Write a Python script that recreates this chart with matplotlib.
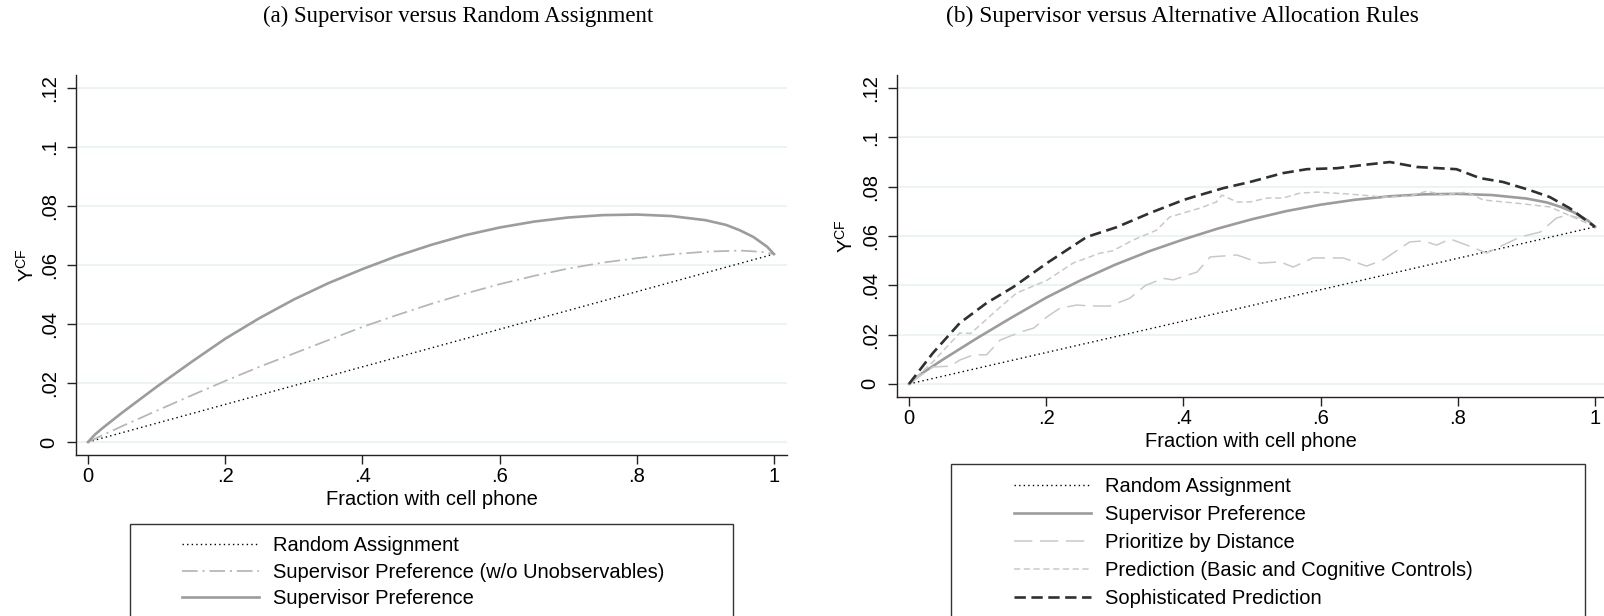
import matplotlib
matplotlib.use("Agg")
import matplotlib.pyplot as plt
from matplotlib.patches import Rectangle

# ---------------- data ----------------
rand_x = [0.0, 1.0]
rand_y = [0.0, 0.0637]

sup_x = [0.0, 0.01, 0.02, 0.05, 0.1, 0.15, 0.2, 0.25, 0.3, 0.35, 0.4, 0.45, 0.5,
         0.55, 0.6, 0.65, 0.7, 0.75, 0.8, 0.85, 0.9, 0.93, 0.95, 0.97, 0.99, 1.0]
sup_y = [0.0, 0.0025, 0.0045, 0.0100, 0.0187, 0.0270, 0.0350, 0.0420, 0.0483,
         0.0538, 0.0586, 0.0630, 0.0668, 0.0701, 0.0727, 0.0747, 0.0761, 0.0769,
         0.0771, 0.0766, 0.0752, 0.0736, 0.0718, 0.0695, 0.0662, 0.0637]

noun_x = [0.0, 0.05, 0.1, 0.15, 0.2, 0.25, 0.3, 0.35, 0.4, 0.45, 0.5, 0.55, 0.6,
          0.65, 0.7, 0.75, 0.8, 0.85, 0.9, 0.95, 0.98, 1.0]
noun_y = [0.0, 0.0054, 0.0106, 0.0157, 0.0207, 0.0255, 0.0300, 0.0345, 0.0390,
          0.0430, 0.0468, 0.0503, 0.0535, 0.0563, 0.0588, 0.0608, 0.0623, 0.0636,
          0.0645, 0.0649, 0.0645, 0.0637]

dist_x = [0.0, 0.02, 0.035, 0.06, 0.074, 0.094, 0.113, 0.133, 0.162, 0.182, 0.201,
          0.22, 0.245, 0.264, 0.293, 0.322, 0.345, 0.371, 0.385, 0.42, 0.439, 0.478,
          0.512, 0.541, 0.56, 0.589, 0.633, 0.667, 0.691, 0.73, 0.75, 0.769, 0.789,
          0.813, 0.842, 0.866, 0.891, 0.92, 0.944, 0.959, 0.979, 1.0]
dist_y = [0.0, 0.0040, 0.0069, 0.0072, 0.0097, 0.0118, 0.0118, 0.0178, 0.0210,
          0.0227, 0.0272, 0.0307, 0.0320, 0.0316, 0.0316, 0.0348, 0.0400, 0.0428,
          0.0422, 0.0454, 0.0515, 0.0523, 0.0490, 0.0495, 0.0474, 0.0511, 0.0511,
          0.0478, 0.0503, 0.0576, 0.0580, 0.0563, 0.0588, 0.0563, 0.0531, 0.0563,
          0.0596, 0.0616, 0.0673, 0.0685, 0.0673, 0.0637]

pred_x = [0.0, 0.035, 0.074, 0.09, 0.133, 0.157, 0.201, 0.239, 0.278, 0.297, 0.327,
          0.361, 0.38, 0.424, 0.448, 0.456, 0.478, 0.497, 0.522, 0.545, 0.57, 0.595,
          0.643, 0.691, 0.73, 0.755, 0.779, 0.813, 0.837, 0.886, 0.934, 0.968, 1.0]
pred_y = [0.0, 0.0090, 0.0207, 0.0205, 0.0312, 0.0369, 0.0420, 0.0490, 0.0530,
          0.0540, 0.0584, 0.0624, 0.0677, 0.0713, 0.0738, 0.0766, 0.0738, 0.0738,
          0.0754, 0.0754, 0.0774, 0.0778, 0.0770, 0.0758, 0.0762, 0.0782, 0.0766,
          0.0778, 0.0746, 0.0733, 0.0718, 0.0677, 0.0637]

soph_x = [0.0, 0.035, 0.074, 0.113, 0.152, 0.201, 0.23, 0.259, 0.303, 0.351, 0.40,
          0.414, 0.458, 0.497, 0.545, 0.58, 0.624, 0.662, 0.701, 0.74, 0.798, 0.832,
          0.866, 0.905, 0.934, 0.963, 1.0]
soph_y = [0.0, 0.0126, 0.0247, 0.0328, 0.0393, 0.0490, 0.0543, 0.0596, 0.0636,
          0.0693, 0.0746, 0.0758, 0.0794, 0.0819, 0.0855, 0.0871, 0.0875, 0.0888,
          0.0900, 0.0880, 0.0871, 0.0835, 0.0819, 0.0786, 0.0758, 0.0713, 0.0637]

xticks = [0, 0.2, 0.4, 0.6, 0.8, 1.0]
xtick_labels = ["0", ".2", ".4", ".6", ".8", "1"]
yticks = [0, 0.02, 0.04, 0.06, 0.08, 0.10, 0.12]
ytick_labels = ["0", ".02", ".04", ".06", ".08", ".1", ".12"]

title_a = "(a) Supervisor versus Random Assignment"
title_b = "(b) Supervisor versus Alternative Allocation Rules"
xlabel = "Fraction with cell phone"
ylabel = r"Y$^{\mathrm{CF}}$"

lab_rand = "Random Assignment"
lab_noun = "Supervisor Preference (w/o Unobservables)"
lab_sup = "Supervisor Preference"
lab_dist = "Prioritize by Distance"
lab_pred = "Prediction (Basic and Cognitive Controls)"
lab_soph = "Sophisticated Prediction"

# ---------------- style ----------------
plt.rcParams["font.family"] = ["Liberation Sans", "DejaVu Sans"]
plt.rcParams["mathtext.fontset"] = "custom"
plt.rcParams["mathtext.rm"] = "Liberation Sans"
FS = 14.5
W, H = 1604, 616
fig = plt.figure(figsize=(W / 100, H / 100), dpi=100)
fig.patch.set_facecolor("white")

GRID = "#e9f1f3"
AX = "#222222"


def px_axes(x0, x1, ytop, ybot):
    return fig.add_axes([x0 / W, 1 - ybot / H, (x1 - x0) / W, (ybot - ytop) / H])


def style_axes(ax, xlim, ylim):
    ax.set_xlim(*xlim)
    ax.set_ylim(*ylim)
    for s in ["top", "right"]:
        ax.spines[s].set_visible(False)
    for s in ["left", "bottom"]:
        ax.spines[s].set_color(AX)
        ax.spines[s].set_linewidth(1.0)
    ax.set_xticks(xticks)
    ax.set_xticklabels(xtick_labels, fontsize=FS)
    ax.set_yticks(yticks)
    ax.set_yticklabels(ytick_labels, fontsize=FS, rotation=90, va="center")
    ax.tick_params(axis="both", length=6.5, width=1.0, color=AX, direction="out")
    ax.tick_params(axis="x", pad=2)
    ax.tick_params(axis="y", pad=6)
    ax.yaxis.grid(True, color=GRID, linewidth=1.2)
    ax.set_axisbelow(True)
    ax.set_xlabel(xlabel, fontsize=FS, labelpad=3)


rand_kw = dict(color="#000000", lw=1.0, linestyle=(0, (1.0, 2.3)))
sup_kw = dict(color="#9c9c9c", lw=1.9, linestyle="-")
noun_kw = dict(color="#b5b5b5", lw=1.25, linestyle=(0, (9, 2.8, 1.2, 2.8)))
dist_kw = dict(color="#c9c9c9", lw=1.1, linestyle=(0, (12, 5)))
pred_kw = dict(color="#c9c9c9", lw=1.1, linestyle=(0, (4, 2.4)))
soph_kw = dict(color="#303030", lw=1.9, linestyle=(0, (4.3, 2.1)))

# ---------------- panel (a) ----------------
axa = px_axes(76, 787, 75, 455)
style_axes(axa, (-0.0175, 1.019), (-0.0044, 0.1244))
la1, = axa.plot(rand_x, rand_y, label=lab_rand, **rand_kw)
la2, = axa.plot(noun_x, noun_y, label=lab_noun, **noun_kw)
la3, = axa.plot(sup_x, sup_y, label=lab_sup, **sup_kw)
axa.set_ylabel(ylabel, fontsize=FS)
axa.yaxis.set_label_coords((38 - 76) / 711, 0.5)

# ---------------- panel (b) ----------------
axb = px_axes(897, 1604, 75, 397)
style_axes(axb, (-0.0175, 1.0131), (-0.0053, 0.1253))
lb1, = axb.plot(rand_x, rand_y, label=lab_rand, **rand_kw)
lb2, = axb.plot(sup_x, sup_y, label=lab_sup, **sup_kw)
lb3, = axb.plot(dist_x, dist_y, label=lab_dist, **dist_kw)
lb4, = axb.plot(pred_x, pred_y, label=lab_pred, **pred_kw)
lb5, = axb.plot(soph_x, soph_y, label=lab_soph, **soph_kw)
axb.set_ylabel(ylabel, fontsize=FS)
axb.yaxis.set_label_coords((857 - 897) / 707, 0.5)

# ---------------- titles ----------------
fig.text(458 / W, 1 - 16 / H, title_a, ha="center", va="center",
         fontsize=16.4, family="Liberation Serif")
fig.text(1182 / W, 1 - 16 / H, title_b, ha="center", va="center",
         fontsize=16.8, family="Liberation Serif")

# ---------------- legends ----------------
fig.patches.append(Rectangle((130 / W, -0.05), (733 - 130) / W, 0.05 + 1 - 524 / H,
                             transform=fig.transFigure, fill=False,
                             edgecolor="#333333", lw=1.0))
fig.patches.append(Rectangle((951 / W, -0.05), (1585 - 951) / W, 0.05 + 1 - 464 / H,
                             transform=fig.transFigure, fill=False,
                             edgecolor="#333333", lw=1.0))

leg_kw = dict(frameon=False, fontsize=FS, handlelength=3.8, handletextpad=0.7,
              borderpad=0, borderaxespad=0, loc="upper left")
fig.legend(handles=[la1, la2, la3], bbox_to_anchor=(182 / W, 1 - 536 / H),
           labelspacing=0.38, **leg_kw)
fig.legend(handles=[lb1, lb2, lb3, lb4, lb5],
           bbox_to_anchor=(1014 / W, 1 - 477 / H), labelspacing=0.45, **leg_kw)

fig.savefig("out.png", dpi=100, facecolor="white")
